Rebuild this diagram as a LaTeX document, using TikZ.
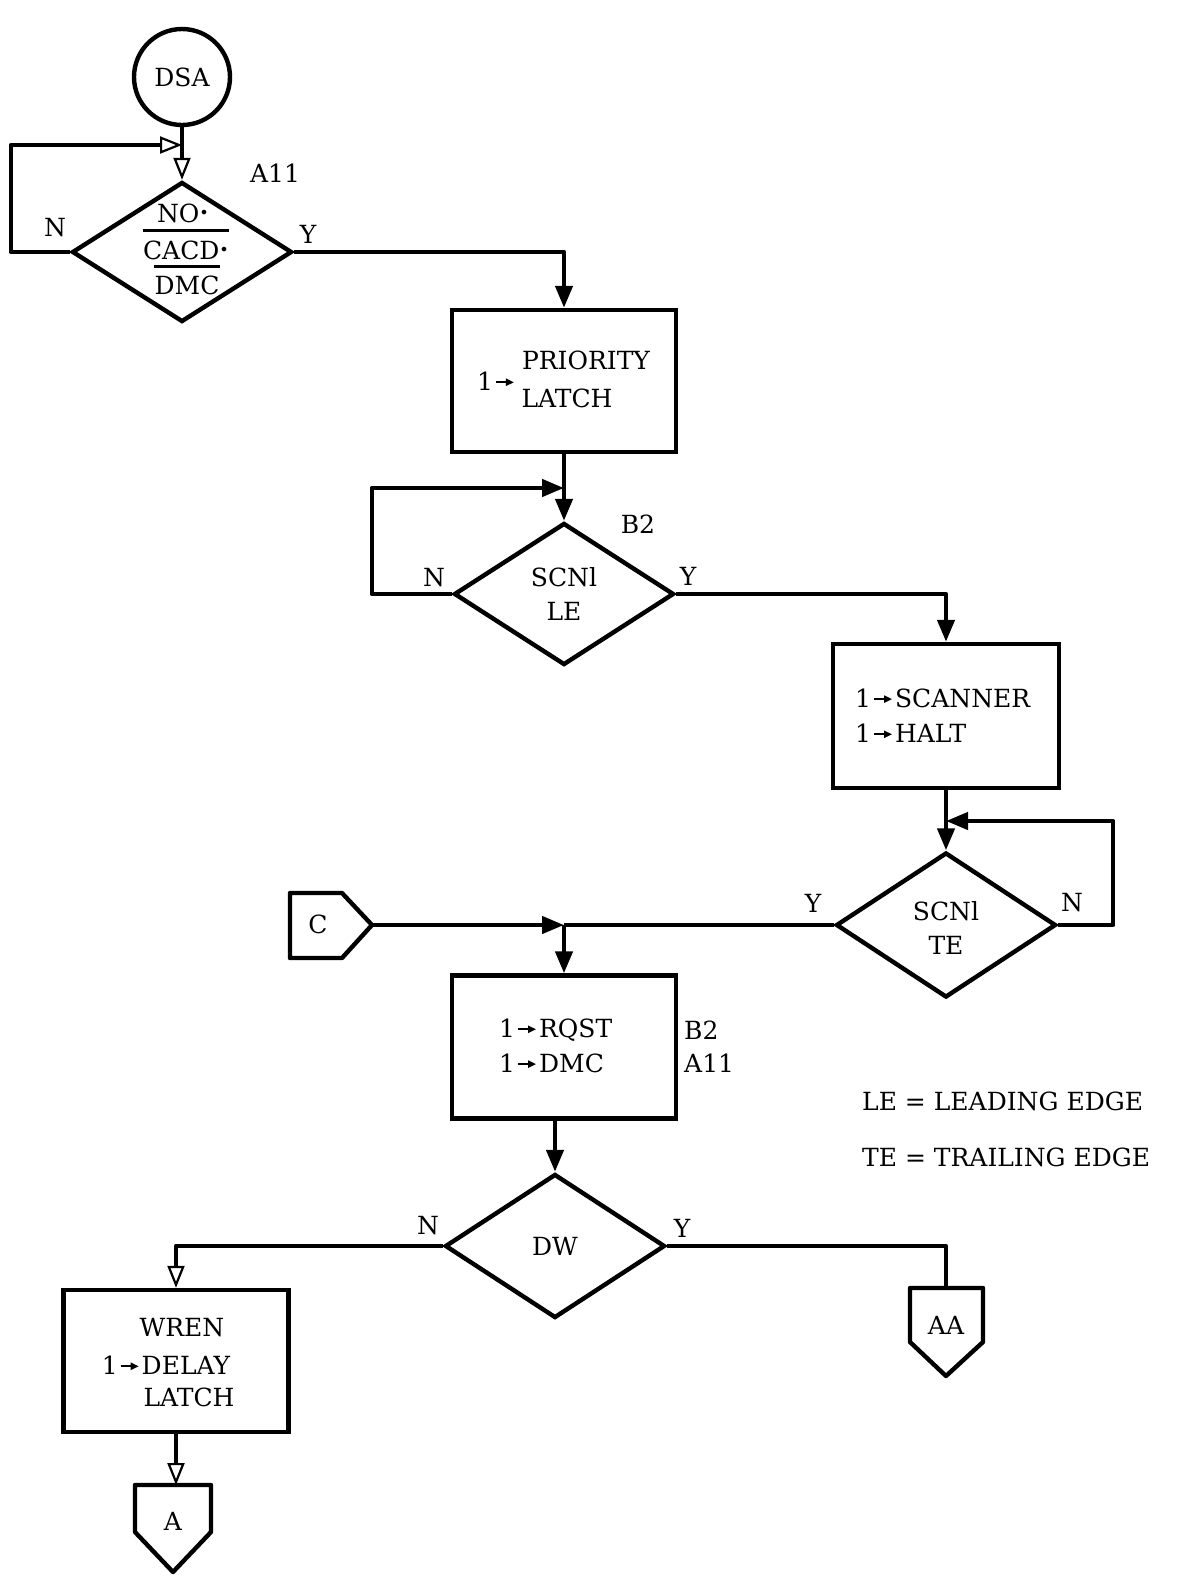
\documentclass[tikz,border=0pt]{standalone}
\usepackage{graphicx}
\usepackage{fontspec}
\setmainfont{DejaVu Serif}
\usetikzlibrary{arrows.meta,shapes.geometric}
\newcommand\rar{\tikz[baseline=-8pt]\draw[line width=2pt,-{Triangle[length=8pt,width=7pt]}] (0pt,0pt) -- (18pt,0pt);}
\newcommand\mydot{\raisebox{4pt}{\fontsize{16}{16}\selectfont\textbullet}}
\begin{document}
\begin{tikzpicture}[x=1pt,y=-1pt,
  every node/.style={font=\fontsize{25}{28}\selectfont},
  ln/.style={line width=4.4pt, line join=round},
  blk/.style={draw, line width=4.4pt, rectangle, inner sep=0pt},
  dia/.style={draw, line width=4.4pt, diamond, inner sep=0pt, minimum width=220pt, minimum height=142pt},
  arr/.style={-{Triangle[length=22pt,width=17pt]}},
  arro/.style={-{Triangle[open,length=22pt,width=17pt,line width=2.2pt]}},
  lab/.style={inner sep=0pt},
  ol/.style={line width=2.8pt}
]
\useasboundingbox (0,0) rectangle (1202,1577);

% DSA and A11
\node[draw, circle, line width=4.4pt, minimum size=96pt, inner sep=0pt] (dsa) at (182,77) {DSA};
\node[dia, minimum height=140pt] (a11) at (182,252) {};
\node[lab] (tno) at (183,213) {NO\mydot};
\node[lab] (tcacd) at (186,250) {CACD\mydot};
\node[lab] (tdmc) at (187,285) {DMC};
\draw[ol] ([yshift=10pt]tcacd.north west) -- ([yshift=10pt]tcacd.north east);
\draw[ol] ([yshift=9pt]tdmc.north west) -- ([yshift=9pt]tdmc.north east);
\node[lab] (la11) at (275,173) {A11};
\node[lab] (ln1) at (55,228) {N};
\node[lab] (ly1) at (308,234) {Y};
\coordinate (j1) at (182,145);
\draw[ln] (dsa.south) -- (j1);
\draw[ln,arro] (j1) -- (a11.north);
\draw[ln,arro] (a11.west) -- ++(-59,0) |- (j1);

% PRIORITY LATCH
\node[blk, minimum width=224pt, minimum height=142pt] (pri) at (564,381) {};
\node[lab] (pri1) at (496,381) {1\kern2pt\rar};
\node[lab] (pria) at (586,360) {PRIORITY};
\node[lab] (prib) at (567,398) {LATCH};
\draw[ln,arr] (a11.east) -| (pri.north);

% B2 diamond
\node[dia] (b2) at (564,594) {};
\node[lab] (b2a) at (564,577) {SCNl};
\node[lab] (b2b) at (564,611) {LE};
\node[lab] (lb2) at (638,524) {B2};
\node[lab] (ln2) at (434,578) {N};
\node[lab] (ly2) at (688,576) {Y};
\coordinate (j2) at (564,488);
\draw[ln] (pri.south) -- (j2);
\draw[ln,arr] (j2) -- (b2.north);
\draw[ln,arr] (b2.west) -- ++(-80,0) |- (j2);

% SCANNER box
\node[blk, minimum width=226pt, minimum height=144pt] (scan) at (946,716) {};
\node[lab, anchor=west] (scana) at (855,698) {1\kern2pt\rar\kern2pt SCANNER};
\node[lab, anchor=west] (scanb) at (855,733) {1\kern2pt\rar\kern2pt HALT};
\draw[ln,arr] (b2.east) -| (scan.north);

% TE diamond
\node[dia, minimum height=145pt] (te) at (946,925) {};
\node[lab] (tea) at (946,911) {SCNl};
\node[lab] (teb) at (946,945) {TE};
\node[lab] (ly3) at (813,903) {Y};
\node[lab] (ln3) at (1072,903) {N};
\coordinate (j4) at (946,821);
\draw[ln] (scan.south) -- (j4);
\draw[ln,arr] (j4) -- (te.north);
\draw[ln,arr] (te.east) -- ++(55,0) |- (j4);

% C connector
\coordinate (cp) at (372,925);
\draw[ln] (290,893) -- (342,893) -- (cp) -- (342,958) -- (290,958) -- cycle;
\node[lab] (ct) at (318,924) {C};
\coordinate (j3) at (564,925);
\draw[ln] (te.west) -- (j3);
\draw[ln,arr] (cp) -- (j3);

% RQST box
\node[blk, minimum width=224pt, minimum height=143pt] (rq) at (564,1047) {};
\node[lab, anchor=west] (rqa) at (499,1030) {1\kern2pt\rar\kern2pt RQST};
\node[lab, anchor=west] (rqb) at (499,1063) {1\kern2pt\rar\kern2pt DMC};
\node[lab, anchor=west] (rqc) at (684,1030) {B2};
\node[lab, anchor=west] (rqd) at (684,1063) {A11};
\draw[ln,arr] (j3) -- (rq.north);

% legend
\node[lab, anchor=west] (leg1) at (862,1101) {LE = LEADING EDGE};
\node[lab, anchor=west] (leg2) at (862,1157) {TE = TRAILING EDGE};

% DW diamond
\node[dia, minimum height=144pt] (dw) at (555,1246) {DW};
\node[lab] (ln4) at (428,1226) {N};
\node[lab] (ly4) at (682,1228) {Y};
\draw[ln,arr] (rq.south -| dw.north) -- (dw.north);

% WREN box
\node[blk, minimum width=225pt, minimum height=142pt] (wr) at (176,1361) {};
\node[lab] (wra) at (182,1328) {WREN};
\node[lab] (wrb) at (166,1365) {1\kern2pt\rar\kern2pt DELAY};
\node[lab] (wrc) at (189,1397) {LATCH};
\draw[ln,arro] (dw.west) -| (wr.north);

% A connector
\coordinate (at) at (176,1485);
\draw[ln] (135,1485) -- (211,1485) -- (211,1532) -- (173,1572) -- (135,1532) -- cycle;
\node[lab] (atx) at (173,1521) {A};
\draw[ln,arro] (wr.south) -- (at);

% AA connector
\coordinate (aat) at (946,1288);
\draw[ln] (910,1288) -- (983,1288) -- (983,1342) -- (946,1376) -- (910,1342) -- cycle;
\node[lab] (aatx) at (946,1325) {AA};
\draw[ln] (dw.east) -| (aat);
\end{tikzpicture}
\end{document}
